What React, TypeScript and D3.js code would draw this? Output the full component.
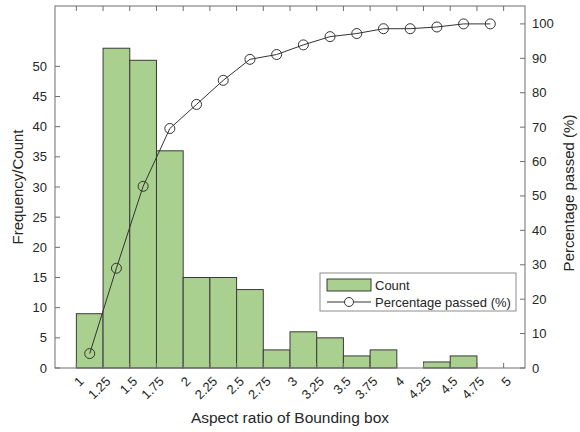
import React from "react";
import * as d3 from "d3";

// histogram bins (aspect ratio edges) and counts
const binEdges = [1, 1.25, 1.5, 1.75, 2, 2.25, 2.5, 2.75, 3, 3.25, 3.5, 3.75, 4, 4.25, 4.5, 4.75, 5];
const tickLabels = ["1", "1.25", "1.5", "1.75", "2", "2.25", "2.5", "2.75", "3", "3.25", "3.5", "3.75", "4", "4.25", "4.5", "4.75", "5"];
const counts = [9, 53, 51, 36, 15, 15, 13, 3, 6, 5, 2, 3, 0, 1, 2, 0];
const percentPassed = [4.2, 29.0, 52.8, 69.6, 76.6, 83.6, 89.7, 91.1, 93.9, 96.3, 97.2, 98.6, 98.6, 99.1, 100, 100];
const countTicks = [0, 5, 10, 15, 20, 25, 30, 35, 40, 45, 50];
const pctTicks = [0, 10, 20, 30, 40, 50, 60, 70, 80, 90, 100];

const W = 580;
const H = 432;
const margin = { top: 6, right: 55, bottom: 64, left: 55 };
const FONT = "'Liberation Sans', Arial, Helvetica, sans-serif";
const AXIS = "#6e6e6e";
const TEXT = "#262626";
const BAR_FILL = "#a9d08e";
const BAR_EDGE = "#3a3a3a";

export default function App() {
  const x = d3.scaleLinear().domain([0.8, 5.2]).range([margin.left, W - margin.right]);
  const yL = d3.scaleLinear().domain([0, 60]).range([H - margin.bottom, margin.top]);
  const yR = d3.scaleLinear().domain([0, 105.2]).range([H - margin.bottom, margin.top]);

  const x0 = margin.left;
  const x1 = W - margin.right;
  const y0 = H - margin.bottom;
  const y1 = margin.top;

  const centers = counts.map((_, i) => (binEdges[i] + binEdges[i + 1]) / 2);
  const line = d3.line<number>()
    .x((_, i) => x(centers[i]))
    .y(d => yR(d));

  return (
    <svg width={W} height={H} style={{ position: "absolute", left: 0, top: 0, background: "#fff" }}
      fontFamily={FONT}>
      {/* bars */}
      {counts.map((c, i) => c > 0 && (
        <rect key={i}
          x={x(binEdges[i])} y={yL(c)}
          width={x(binEdges[i + 1]) - x(binEdges[i])} height={yL(0) - yL(c)}
          fill={BAR_FILL} stroke={BAR_EDGE} strokeWidth={1} />
      ))}

      {/* cumulative percentage */}
      <path d={line(percentPassed) || ""} fill="none" stroke="#333" strokeWidth={1} />
      {percentPassed.map((p, i) => (
        <circle key={i} cx={x(centers[i])} cy={yR(p)} r={5} fill="none" stroke="#333" strokeWidth={1} />
      ))}

      {/* box */}
      <rect x={x0} y={y1} width={x1 - x0} height={y0 - y1} fill="none" stroke={AXIS} strokeWidth={1} />

      {/* x ticks top & bottom */}
      {binEdges.map((b, i) => (
        <g key={i}>
          <line x1={x(b)} x2={x(b)} y1={y0} y2={y0 - 5} stroke={AXIS} />
          <line x1={x(b)} x2={x(b)} y1={y1} y2={y1 + 5} stroke={AXIS} />
          <text transform={`translate(${x(b) + 5},${y0 + 11}) rotate(-45)`}
            textAnchor="end" dy="0.35em" fontSize={13} fill={TEXT}>{tickLabels[i]}</text>
        </g>
      ))}

      {/* left axis ticks */}
      {countTicks.map(t => (
        <g key={t}>
          <line x1={x0} x2={x0 + 5} y1={yL(t)} y2={yL(t)} stroke={AXIS} />
          <text x={x0 - 8} y={yL(t)} dy="0.35em" textAnchor="end" fontSize={13} fill={TEXT}>{t}</text>
        </g>
      ))}

      {/* right axis ticks */}
      {pctTicks.map(t => (
        <g key={t}>
          <line x1={x1} x2={x1 - 5} y1={yR(t)} y2={yR(t)} stroke={AXIS} />
          <text x={x1 + 7} y={yR(t)} dy="0.35em" textAnchor="start" fontSize={13} fill={TEXT}>{t}</text>
        </g>
      ))}

      {/* axis titles */}
      <text transform={`translate(${23},${(y0 + y1) / 2}) rotate(-90)`} textAnchor="middle"
        fontSize={15} fill={TEXT}>Frequency/Count</text>
      <text transform={`translate(${574},${(y0 + y1) / 2 + 6}) rotate(-90)`} textAnchor="middle"
        fontSize={15} fill={TEXT}>Percentage passed (%)</text>
      <text x={(x0 + x1) / 2} y={423} textAnchor="middle" fontSize={15.5} fill={TEXT}>
        Aspect ratio of Bounding box
      </text>

      {/* legend */}
      <g transform="translate(320,273)">
        <rect x={0} y={0} width={196} height={38} fill="#fff" stroke="#8c8c8c" />
        <rect x={7} y={6} width={44} height={12} fill={BAR_FILL} stroke={BAR_EDGE} />
        <text x={55} y={12} dy="0.35em" fontSize={13} fill={TEXT}>Count</text>
        <line x1={7} x2={51} y1={29} y2={29} stroke="#333" />
        <circle cx={29} cy={29} r={4.5} fill="#fff" stroke="#333" />
        <text x={55} y={29} dy="0.35em" fontSize={13} fill={TEXT}>Percentage passed (%)</text>
      </g>
    </svg>
  );
}
